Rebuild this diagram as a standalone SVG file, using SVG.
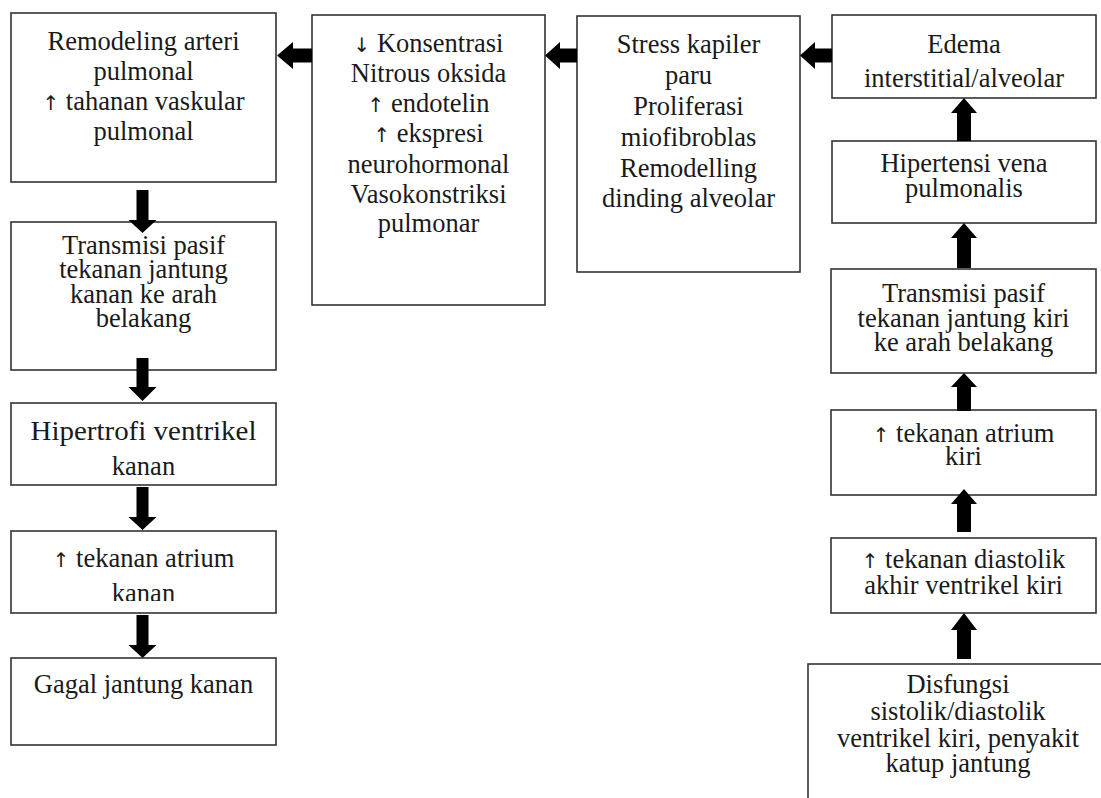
<svg xmlns="http://www.w3.org/2000/svg" width="1101" height="798" viewBox="0 0 1101 798">
<style>
.box{fill:#fff;stroke:#333;stroke-width:1.6}
.t{font-family:"Liberation Serif","Times New Roman",serif;font-size:26.5px;fill:#1a1a1a;text-anchor:middle}
.ar{font-family:"DejaVu Sans","Noto Sans CJK SC",sans-serif;font-size:20px;fill:#1a1a1a}
.arr{fill:#000}
</style>
<defs>
<clipPath id="clipAK"><rect x="11" y="531" width="265" height="70"/></clipPath>
</defs>
<rect width="1101" height="798" fill="#fff"/>
<g id="n1"><rect class="box" x="11" y="13" width="265" height="169"/>
<text class="t" x="143.5" y="50">Remodeling arteri</text>
<text class="t" x="143.5" y="80">pulmonal</text>
<text class="t" x="143.5" y="110"><tspan class="ar">↑</tspan> tahanan vaskular</text>
<text class="t" x="143.5" y="140">pulmonal</text></g>
<g id="n2"><rect class="box" x="312" y="15" width="233" height="290"/>
<text class="t" x="428.5" y="52"><tspan class="ar">↓</tspan> Konsentrasi</text>
<text class="t" x="428.5" y="82">Nitrous oksida</text>
<text class="t" x="428.5" y="112"><tspan class="ar">↑</tspan> endotelin</text>
<text class="t" x="428.5" y="142"><tspan class="ar">↑</tspan> ekspresi</text>
<text class="t" x="428.5" y="173">neurohormonal</text>
<text class="t" x="428.5" y="203">Vasokonstriksi</text>
<text class="t" x="428.5" y="232">pulmonar</text></g>
<g id="n3"><rect class="box" x="577" y="16" width="223" height="256"/>
<text class="t" x="688.5" y="53">Stress kapiler</text>
<text class="t" x="688.5" y="84">paru</text>
<text class="t" x="688.5" y="115">Proliferasi</text>
<text class="t" x="688.5" y="146">miofibroblas</text>
<text class="t" x="688.5" y="177">Remodelling</text>
<text class="t" x="688.5" y="207">dinding alveolar</text></g>
<g id="n4"><rect class="box" x="832" y="15" width="264" height="83"/>
<text class="t" x="964" y="53">Edema</text>
<text class="t" x="964" y="87">interstitial/alveolar</text></g>
<g id="n5"><rect class="box" x="832" y="141" width="264" height="82"/>
<text class="t" x="964" y="172">Hipertensi vena</text>
<text class="t" x="964" y="197">pulmonalis</text></g>
<g id="n6"><rect class="box" x="831" y="269" width="265" height="104"/>
<text class="t" x="963.5" y="302">Transmisi pasif</text>
<text class="t" x="963.5" y="327">tekanan jantung kiri</text>
<text class="t" x="963.5" y="351">ke arah belakang</text></g>
<g id="n7"><rect class="box" x="831" y="410" width="265" height="85"/>
<text class="t" x="963.5" y="442"><tspan class="ar">↑</tspan> tekanan atrium</text>
<text class="t" x="963.5" y="465">kiri</text></g>
<g id="n8"><rect class="box" x="831" y="538" width="265" height="75"/>
<text class="t" x="963.5" y="568"><tspan class="ar">↑</tspan> tekanan diastolik</text>
<text class="t" x="963.5" y="594">akhir ventrikel kiri</text></g>
<g id="n9"><rect class="box" x="808" y="664" width="310" height="160"/>
<text class="t" x="958" y="693">Disfungsi</text>
<text class="t" x="958" y="720">sistolik/diastolik</text>
<text class="t" x="958" y="747">ventrikel kiri, penyakit</text>
<text class="t" x="958" y="772">katup jantung</text></g>
<g id="n10"><rect class="box" x="11" y="222" width="265" height="148"/>
<text class="t" x="143.5" y="254">Transmisi pasif</text>
<text class="t" x="143.5" y="278">tekanan jantung</text>
<text class="t" x="143.5" y="303">kanan ke arah</text>
<text class="t" x="143.5" y="327">belakang</text></g>
<g id="n11"><rect class="box" x="11" y="403" width="265" height="82"/>
<text class="t" x="143.5" y="440" textLength="226" lengthAdjust="spacingAndGlyphs">Hipertrofi ventrikel</text>
<text class="t" x="143.5" y="475">kanan</text></g>
<g id="n12"><rect class="box" x="11" y="531" width="265" height="82"/>
<text class="t" x="143.5" y="567"><tspan class="ar">↑</tspan> tekanan atrium</text>
<text class="t" x="143.5" y="602" clip-path="url(#clipAK)">kanan</text></g>
<g id="n13"><rect class="box" x="11" y="658" width="265" height="87"/>
<text class="t" x="143.5" y="693">Gagal jantung kanan</text></g>
<g id="connectors">
<path class="arr" d="M312,48.5 H293 V42 L277,55.5 L293,69 V62.5 H312 Z"/>
<path class="arr" d="M577,48.5 H560 V42 L545,55.5 L560,69 V62.5 H577 Z"/>
<path class="arr" d="M832,48.5 H815 V42 L800,55.5 L815,69 V62.5 H832 Z"/>
<path class="arr" d="M957,141 V113 H951 L964,98 L977,113 H971 V141 Z"/>
<path class="arr" d="M957,268 V238 H951 L964,223 L977,238 H971 V268 Z"/>
<path class="arr" d="M957,411 V387 H951 L964,373 L977,387 H971 V411 Z"/>
<path class="arr" d="M957,532 V504 H951 L964,489 L977,504 H971 V532 Z"/>
<path class="arr" d="M957,659 V630 H951 L964,613 L977,630 H971 V659 Z"/>
<path class="arr" d="M136.5,190 V220 H128.5 L142.5,233 L156.5,220 H148.5 V190 Z"/>
<path class="arr" d="M136.5,358 V387 H128.5 L142.5,401 L156.5,387 H148.5 V358 Z"/>
<path class="arr" d="M136.5,487 V517 H128.5 L142.5,530 L156.5,517 H148.5 V487 Z"/>
<path class="arr" d="M136.5,615 V645 H128.5 L142.5,658 L156.5,645 H148.5 V615 Z"/>
</g>
</svg>
